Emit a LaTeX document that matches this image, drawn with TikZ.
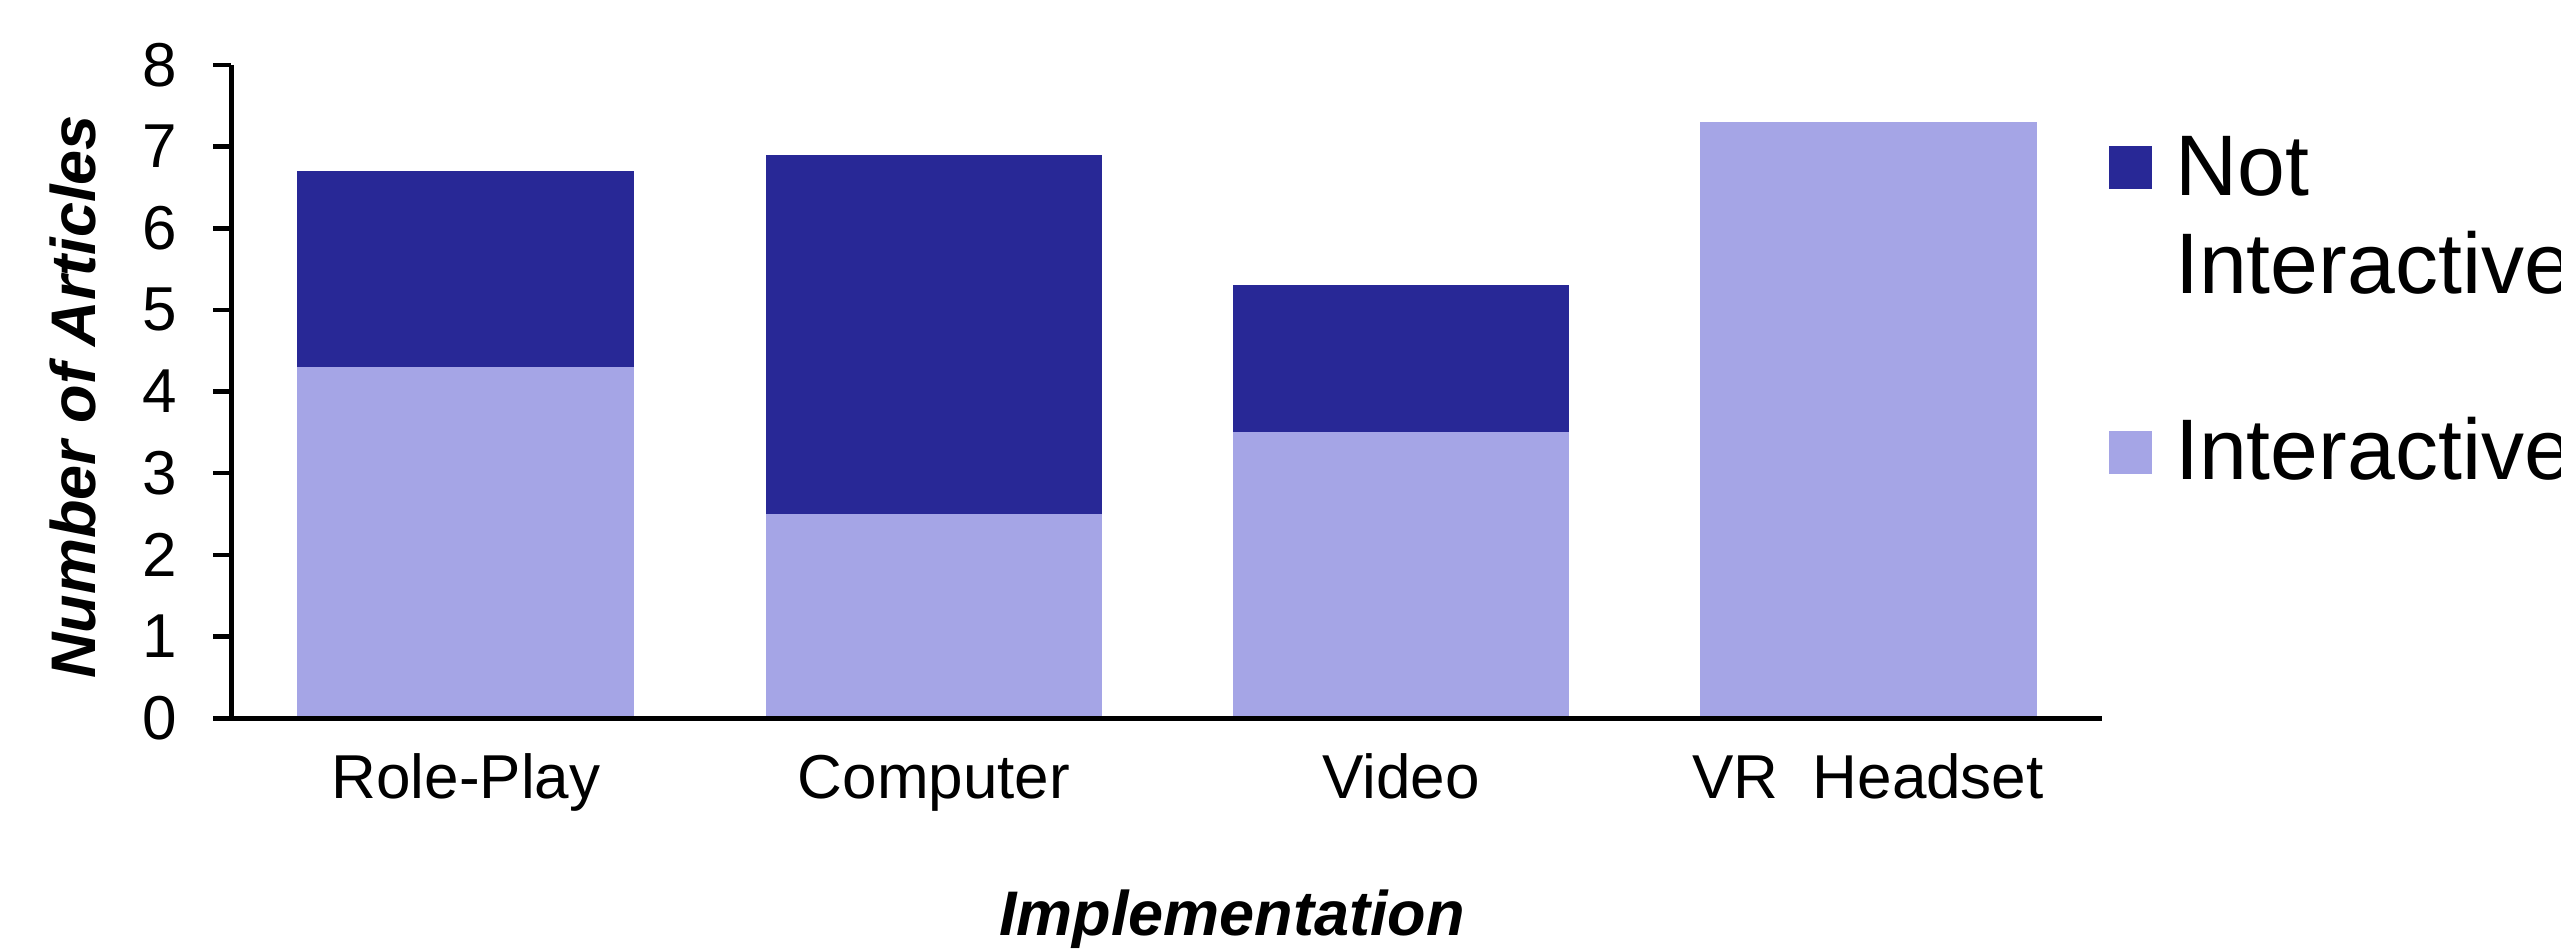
\documentclass[tikz,border=0pt]{standalone}
\usepackage{fontspec}
\setmainfont{Liberation Sans}
\definecolor{notint}{RGB}{40,40,150}
\definecolor{inter}{RGB}{165,165,230}
\begin{document}
\begin{tikzpicture}[x=1pt,y=-1pt,
  axisline/.style={line width=5pt,black},
  ticklab/.style={anchor=east,inner sep=0pt,font=\fontsize{62}{74}\selectfont},
  catlab/.style={anchor=base,inner sep=0pt,font=\fontsize{62}{74}\selectfont},
  leglab/.style={anchor=base west,inner sep=0pt,font=\fontsize{86}{100}\selectfont},
  titlelab/.style={inner sep=0pt,font=\fontsize{63}{75}\selectfont\bfseries\itshape}]
\useasboundingbox (0,0) rectangle (2561,950);
\fill[white] (0,0) rectangle (2561,950);
\def\yz{718}
\def\un{81.625}
% bars
\fill[inter]  (297,\yz) rectangle (634,{\yz-4.3*\un});
\fill[notint] (297,{\yz-4.3*\un}) rectangle (634,{\yz-6.7*\un});
\fill[inter]  (766,\yz) rectangle (1102,{\yz-2.5*\un});
\fill[notint] (766,{\yz-2.5*\un}) rectangle (1102,{\yz-6.9*\un});
\fill[inter]  (1233,\yz) rectangle (1569,{\yz-3.5*\un});
\fill[notint] (1233,{\yz-3.5*\un}) rectangle (1569,{\yz-5.3*\un});
\fill[inter]  (1700,\yz) rectangle (2037,{\yz-7.3*\un});
% axes
\coordinate (ytop) at (231,{\yz-8*\un});
\coordinate (orig) at (231,\yz);
\coordinate (xstart) at (213,\yz);
\coordinate (xend) at (2102,\yz);
\draw[axisline] (ytop) -- (orig);
\draw[axisline] (xstart) -- (xend);
\foreach \v in {1,...,8}{
  \coordinate (tl\v) at (213,{\yz-\v*\un});
  \coordinate (tr\v) at (231,{\yz-\v*\un});
  \draw[axisline,line width=4.5pt] (tl\v) -- (tr\v);
}
\foreach \v in {0,...,8}{
  \node[ticklab] (lab\v) at (177,{\yz-\v*\un}) {\v};
}
% category labels
\node[catlab] (c1) at (466,798) {Role-Play};
\node[catlab] (c2) at (934,798) {Computer};
\node[catlab] (c3) at (1401,798) {Video};
\node[catlab] (c4) at (1868,798) {VR\ \ Headset};
% titles
\node[titlelab,anchor=base] (xt) at (1232,935) {Implementation};
\node[titlelab,anchor=base,rotate=90] (yt) at (95,397) {Number of Articles};
% legend
\fill[notint] (2109,146) rectangle (2152,189);
\fill[inter] (2109,431) rectangle (2152,474);
\node[leglab] (l1) at (2175,195) {Not};
\node[leglab] (l2) at (2175,293) {Interactive};
\node[leglab] (l3) at (2175,479) {Interactive};
\end{tikzpicture}
\end{document}
